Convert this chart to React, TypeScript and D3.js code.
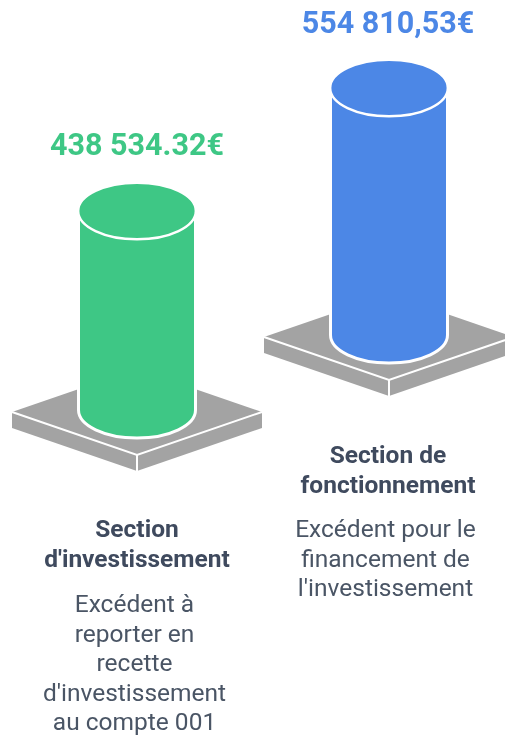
import React from "react";
import * as d3 from "d3";

const ids = ["inv", "fonc"];
const values = [438534.32, 554810.53];
const valueLabels = ["438 534.32€", "554 810,53€"];
const colors = ["#3EC785", "#4C87E6"];
const titles = [["Section", "d'investissement"], ["Section de", "fonctionnement"]];
const bodies = [
  ["Excédent à", "reporter en", "recette", "d'investissement", "au compte 001"],
  ["Excédent pour le", "financement de", "l'investissement"],
];

const W = 505, H = 736;
const rx = 58.5, ry = 28, halfBase = 125, baseRise = 43, baseDepth = 16;
const xScale = d3.scalePoint<string>().domain(ids).range([137, 389]);
const heightScale = d3.scaleLinear().domain([values[0], values[1]]).range([199, 247]);
const bottomScale = d3.scalePoint<string>().domain(ids).range([410, 335]);
const font = "Roboto, sans-serif";

function Column({ i }: { i: number }) {
  const id = ids[i];
  const cx = xScale(id)!;
  const by = bottomScale(id)!;
  const ty = by - heightScale(values[i]);
  const baseCy = by + 2;
  const L = cx - halfBase, R = cx + halfBase;
  const line = d3.line();
  const top = line([[L, baseCy], [cx, baseCy - baseRise], [R, baseCy], [cx, baseCy + baseRise]]) + "Z";
  const left = line([[L, baseCy], [cx, baseCy + baseRise], [cx, baseCy + baseRise + baseDepth], [L, baseCy + baseDepth]]) + "Z";
  const right = line([[R, baseCy], [cx, baseCy + baseRise], [cx, baseCy + baseRise + baseDepth], [R, baseCy + baseDepth]]) + "Z";
  const body = `M${cx - rx},${ty}V${by}A${rx},${ry} 0 0 0 ${cx + rx},${by}V${ty}A${rx},${ry} 0 0 1 ${cx - rx},${ty}Z`;
  const titleY = i === 0 ? 537 : 463;
  const bodyY = titleY + (i === 0 ? 75 : 74);
  const textCx = cx - (i === 0 ? 0 : 1);
  const bodyCx = cx - (i === 0 ? 2.5 : 3.5);
  return (
    <g>
      <path d={top} fill="#A3A3A3" />
      <path d={left} fill="#A3A3A3" />
      <path d={right} fill="#A3A3A3" />
      <path d={`M${L},${baseCy}L${cx},${baseCy + baseRise}L${R},${baseCy}M${cx},${baseCy + baseRise}V${baseCy + baseRise + baseDepth}`}
        fill="none" stroke="#fff" strokeWidth={2} />
      <path d={body} fill={colors[i]} stroke="#fff" strokeWidth={3} />
      <ellipse cx={cx} cy={ty} rx={rx} ry={ry} fill={colors[i]} stroke="#fff" strokeWidth={1.8} />
      <text x={textCx} y={i === 0 ? 155 : 33} textAnchor="middle" fontFamily={font} fontWeight={700} fontSize={30.5} fill={colors[i]}>
        {valueLabels[i]}
      </text>
      {titles[i].map((t, k) => (
        <text key={t} x={textCx} y={titleY + k * 30} textAnchor="middle" fontFamily={font} fontWeight={700} fontSize={24.5} fill="#3F4A5E">{t}</text>
      ))}
      {bodies[i].map((t, k) => (
        <text key={t} x={bodyCx} y={bodyY + k * 29.5} textAnchor="middle" fontFamily={font} fontWeight={400} fontSize={24.5} fill="#4A5565">{t}</text>
      ))}
    </g>
  );
}

export default function App() {
  return (
    <svg width={W} height={H} viewBox={`0 0 ${W} ${H}`} style={{ position: "fixed", left: 0, top: 0, display: "block" }}>
      {ids.map((_, i) => <Column key={ids[i]} i={i} />)}
    </svg>
  );
}
